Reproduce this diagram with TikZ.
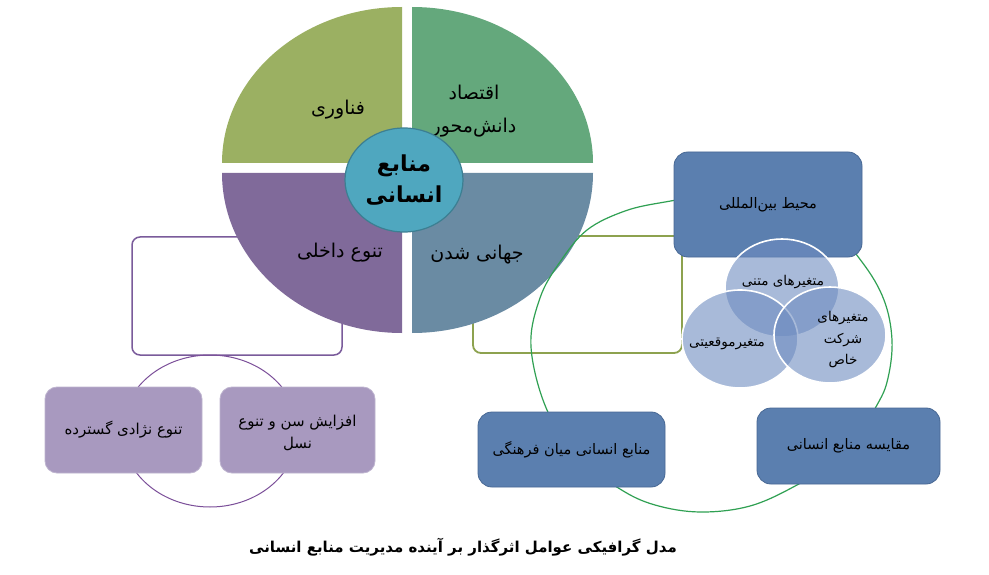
\documentclass[tikz,border=0pt]{standalone}
\usepackage{fontspec}
\usetikzlibrary{shapes.geometric}
\TeXXeTstate=1
\newfontfamily\arabicfont[Script=Arabic]{DejaVu Sans}
\newcommand\artxt[1]{{\arabicfont\beginR #1\endR}}
\definecolor{qolive}{RGB}{155,176,98}
\definecolor{qgreen}{RGB}{100,168,124}
\definecolor{qpurple}{RGB}{128,106,154}
\definecolor{qslate}{RGB}{106,139,163}
\definecolor{cteal}{RGB}{79,167,191}
\definecolor{cteald}{RGB}{60,127,146}
\definecolor{bblue}{RGB}{91,127,175}
\definecolor{bblued}{RGB}{72,104,148}
\definecolor{lpurple}{RGB}{168,153,191}
\definecolor{lpurpleb}{RGB}{190,180,207}
\definecolor{vblue}{RGB}{110,140,192}
\definecolor{brP}{RGB}{122,91,155}
\definecolor{brO}{RGB}{141,162,79}
\definecolor{ringG}{RGB}{47,160,82}
\definecolor{ringP}{RGB}{123,79,153}
\begin{document}
\begin{tikzpicture}[x=1pt,y=-1pt,
  qtext/.style={font=\fontsize{19}{33}\selectfont, text=black, align=center, inner sep=0pt},
  bluebox/.style={draw=bblued, line width=0.8pt, fill=bblue, rounded corners=14pt, align=center, font=\fontsize{14.5}{20}\selectfont, inner sep=0pt},
  purbox/.style={draw=lpurpleb, line width=0.8pt, fill=lpurple, rounded corners=12pt, align=center, font=\fontsize{15}{21.5}\selectfont, inner sep=0pt},
  vcirc/.style={ellipse, draw=white, line width=1.6pt, fill=vblue, fill opacity=0.6, inner sep=0pt},
  vtext/.style={font=\fontsize{13.5}{21.5}\selectfont, align=center, inner sep=0pt},
  bracketP/.style={draw=brP, line width=1.5pt, rounded corners=8pt},
  bracketO/.style={draw=brO, line width=1.8pt, rounded corners=8pt}]
\useasboundingbox[fill=white] (0,0) rectangle (989,575);
% brackets behind
\draw[bracketP] (132,237) rectangle (342,355);
\draw[bracketO] (473,236) rectangle (682,353);
% quadrants
\fill[qolive] (402,163) -- (222,163) arc[start angle=180,end angle=270,x radius=180,y radius=156] -- cycle;
\fill[qgreen] (412,163) -- (593,163) arc[start angle=0,end angle=-90,x radius=181,y radius=156] -- cycle;
\fill[qpurple] (402,173) -- (222,173) arc[start angle=180,end angle=90,x radius=180,y radius=160] -- cycle;
\fill[qslate] (412,173) -- (593,173) arc[start angle=0,end angle=90,x radius=181,y radius=160] -- cycle;
\node[qtext] (fanavari) at (338,110) {\artxt{فناوری}};
\node[qtext] (eghtesad) at (474,111) {\artxt{اقتصاد}\\\artxt{دانش‌محور}};
\node[qtext] (tanavo) at (340,253) {\artxt{تنوع داخلی}};
\node[qtext] (jahani) at (477,255) {\artxt{جهانی شدن}};
% center
\node[ellipse, draw=cteald, line width=1.2pt, fill=cteal, minimum width=118pt, minimum height=104pt, inner sep=0pt,
      font=\fontsize{22}{31}\selectfont\bfseries, align=center] (center) at (404,180) {\artxt{منابع}\\\artxt{انسانی}};
% rings
\draw[ringG, line width=1.2pt] plot[smooth cycle, tension=0.6] coordinates {
 (711,196) (765,199) (822,218) (862,262) (884,300) (892,340) (888,378) (877,405) (845,455) (797,485) (750,506) (700,512)
 (655,505) (620,489) (580,458) (547,410) (531,347) (540,298) (560,262) (587,230) (625,211) (665,202)};
\draw[ringP, line width=1pt] (210,431) ellipse[x radius=88, y radius=76];
% right boxes
\node[bluebox, minimum width=188pt, minimum height=105pt] (intl) at (768,204.5) {\artxt{محیط بین‌المللی}};
\node[bluebox, minimum width=187pt, minimum height=75pt] (cross) at (571.5,449.5) {\artxt{منابع انسانی میان فرهنگی}};
\node[bluebox, minimum width=183pt, minimum height=76pt] (compare) at (848.5,446) {\artxt{مقایسه منابع انسانی}};
% left boxes
\node[purbox, minimum width=157pt, minimum height=86pt] (race) at (123.5,430) {\artxt{تنوع نژادی گسترده}};
\node[purbox, minimum width=155pt, minimum height=86pt] (age) at (297.5,430) {};
\node[purbox, draw=none, fill=none, rounded corners=0pt] (aget) at (297.5,433) {\artxt{افزایش سن و تنوع}\\\artxt{نسل}};
% venn
\node[vcirc, minimum width=114pt, minimum height=98pt] (vtop) at (782,288) {};
\node[vcirc, minimum width=116pt, minimum height=98pt] (vleft) at (740,339) {};
\node[vcirc, minimum width=112pt, minimum height=96pt] (vright) at (830,335) {};
\node[vtext] (vtopt) at (783,282) {\artxt{متغیرهای متنی}};
\node[vtext] (vleftt) at (727,344) {\artxt{متغیرموقعیتی}};
\node[vtext] (vrightt) at (843,340) {\artxt{متغیرهای}\\\artxt{شرکت}\\\artxt{خاص}};
% caption
\node[font=\fontsize{15}{18}\selectfont\bfseries, inner sep=0pt] (caption) at (463,547) {\artxt{مدل گرافیکی عوامل اثرگذار بر آینده مدیریت منابع انسانی}};
\end{tikzpicture}
\end{document}
